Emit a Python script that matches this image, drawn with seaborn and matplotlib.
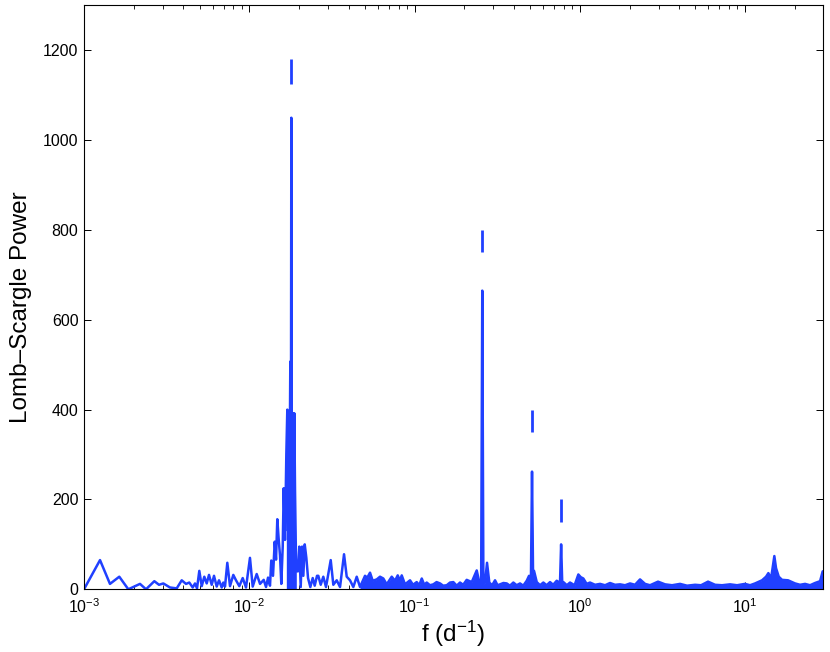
import numpy as np
import pandas as pd
import matplotlib
matplotlib.use("Agg")
import matplotlib.pyplot as plt
import seaborn as sns

# periodogram: frequency (1/d) and power
freq = [
    0.001, 0.00125, 0.001436, 0.001635, 0.001854, 0.002182, 0.002373, 0.002664,
    0.002844, 0.00302, 0.003314, 0.003639, 0.003902, 0.004142, 0.004337, 0.004548,
    0.004696, 0.004829, 0.004986, 0.005157, 0.005346, 0.005528, 0.005707, 0.005926,
    0.006119, 0.006353, 0.00656, 0.006813, 0.006966, 0.007133, 0.007365, 0.007647,
    0.008007, 0.008314, 0.008706, 0.009127, 0.009557, 0.0101, 0.01049, 0.01109,
    0.01162, 0.01223, 0.01263, 0.01299, 0.01335, 0.01359, 0.01392, 0.01426,
    0.01452, 0.01478, 0.01508, 0.01535, 0.01563, 0.01594, 0.01616, 0.01646,
    0.01676, 0.01699, 0.01716, 0.01733, 0.01747, 0.01772, 0.01787, 0.01797,
    0.01804, 0.01821, 0.0184, 0.01858, 0.01873, 0.01892, 0.0191, 0.01926,
    0.01972, 0.02008, 0.02048, 0.02086, 0.02124, 0.02166, 0.02215, 0.02268,
    0.02342, 0.02421, 0.02489, 0.0257, 0.02618, 0.02706, 0.02806, 0.02913,
    0.03111, 0.03226, 0.03382, 0.03542, 0.03745, 0.03888, 0.04071, 0.04263,
    0.04469, 0.04679, 0.05017, 0.05181, 0.05379, 0.05585, 0.05906, 0.06183,
    0.06474, 0.06788, 0.07278, 0.07621, 0.07913, 0.08172, 0.08366, 0.0876,
    0.09393, 0.0979, 0.1031, 0.1068, 0.1106, 0.1145, 0.1185, 0.124, 0.13,
    0.136, 0.1427, 0.149, 0.1566, 0.164, 0.1717, 0.18, 0.1885, 0.197, 0.2069,
    0.2219, 0.2379, 0.2467, 0.253, 0.257, 0.261, 0.2671, 0.2746, 0.2835, 0.295,
    0.307, 0.318, 0.3292, 0.345, 0.3614, 0.378, 0.3962, 0.415, 0.4349, 0.455,
    0.4775, 0.4931, 0.506, 0.514, 0.522, 0.5286, 0.549, 0.575, 0.6018, 0.63,
    0.6607, 0.69, 0.7253, 0.759, 0.771, 0.783, 0.7954, 0.835, 0.873, 0.93,
    0.9802, 1.0134, 1.0508, 1.1, 1.153, 1.237, 1.326, 1.422, 1.524, 1.634,
    1.752, 1.878, 2.014, 2.159, 2.315, 2.483, 2.662, 2.975, 3.28, 3.616,
    4.043, 4.457, 4.983, 5.418, 5.972, 6.585, 7.258, 8.115, 8.946, 10.0,
    10.72, 11.49, 12.67, 13.4, 13.84, 14.37, 15.04, 15.4, 15.99, 16.74,
    18.2, 20.08, 21.52, 23.08, 24.74, 26.52, 28.44, 29.5,
]
power = [
    0, 65, 12, 28, 0, 12, 0, 18,
    10, 13, 4, 2, 20, 12, 15, 4,
    13, 2, 41, 7, 28, 13, 32, 10,
    30, 6, 20, 4, 15, 6, 59, 7,
    32, 20, 7, 25, 4, 70, 6, 34,
    12, 21, 5, 26, 8, 64, 30, 106,
    66, 156, 110, 75, 12, 95, 225, 110,
    300, 400, 130, 300, 150, 507, 250, 1050,
    300, 160, 392, 150, 392, 220, 110, 40,
    40, 95, 5, 95, 30, 100, 70, 25,
    5, 25, 8, 30, 30, 10, 28, 5,
    65, 10, 20, 5, 78, 28, 20, 5,
    28, 5, 30, 26, 37, 19, 22, 28,
    24, 11, 28, 19, 31, 19, 31, 11,
    20, 10, 16, 9, 24, 10, 15, 9, 11,
    16, 13, 8, 9, 15, 16, 8, 15, 10, 21,
    16, 42, 15, 12, 665, 12, 15, 59, 15, 9,
    20, 9, 11, 14, 13, 8, 15, 9, 13, 8,
    19, 30, 14, 262, 16, 41, 16, 9, 15, 9,
    16, 10, 19, 14, 100, 14, 16, 9, 15, 9,
    33, 27, 24, 12, 15, 10, 12, 9, 14, 10,
    11, 9, 13, 10, 22, 12, 9, 17, 11, 9,
    12, 8, 10, 9, 17, 10, 9, 11, 9, 12,
    9, 13, 20, 28, 36, 24, 74, 47, 28, 21,
    20, 13, 10, 12, 9, 14, 18, 40,
]

# short marks drawn above the detected peaks
peak_freq = [0.01797, 0.257, 0.514, 0.771]
peak_mark_low = [1125, 750, 350, 150]
peak_mark_high = [1180, 800, 400, 200]

df = pd.DataFrame({"f": freq, "P": power})

sns.set_style("ticks")
plt.rcParams["font.family"] = ["Liberation Sans", "DejaVu Sans"]
plt.rcParams["mathtext.fontset"] = "custom"
plt.rcParams["mathtext.rm"] = "Liberation Sans"
plt.rcParams["mathtext.it"] = "Liberation Sans:italic"
plt.rcParams["mathtext.bf"] = "Liberation Sans:bold"
plt.rcParams["text.color"] = "black"
plt.rcParams["axes.labelcolor"] = "black"
plt.rcParams["xtick.color"] = "black"
plt.rcParams["ytick.color"] = "black"

blue = "#2040ff"

fig = plt.figure(figsize=(8.3, 6.52), dpi=100)
ax = fig.add_axes([0.1012, 0.0962, 0.8900, 0.8954])

sns.lineplot(data=df, x="f", y="P", ax=ax, color=blue, linewidth=1.8,
             estimator=None, sort=False)
# where the periodogram is very dense it reads as a solid band
core = df[(df["f"] >= 0.01676) & (df["f"] <= 0.01926)]
ax.fill_between(core["f"], 0, core["P"], color=blue, linewidth=0)
dense = df[df["f"] >= 0.045]
ax.fill_between(dense["f"], 0, dense["P"], color=blue, linewidth=0)
ax.vlines(peak_freq, peak_mark_low, peak_mark_high, color=blue, linewidth=2.0)

ax.set_xscale("log")
ax.set_xlim(0.001, 29.5)
ax.set_ylim(0, 1300)
ax.set_yticks([0, 200, 400, 600, 800, 1000, 1200])

ax.set_xlabel("f (d$^{-1}$)", fontsize=17.5, labelpad=2)
ax.set_ylabel("Lomb–Scargle Power", fontsize=17.5)
ax.yaxis.set_label_coords(-0.0704, 0.4827)

for side in ["top", "right", "left", "bottom"]:
    ax.spines[side].set_visible(True)
    ax.spines[side].set_linewidth(0.8)
    ax.spines[side].set_color("black")
ax.tick_params(which="both", direction="in", top=True, right=True, labelsize=11.5)
ax.tick_params(which="major", length=5, width=0.7)
ax.tick_params(which="minor", length=3, width=0.6)
ax.tick_params(axis="x", pad=6)
ax.tick_params(axis="y", pad=4)

fig.savefig("out.png", dpi=100)
